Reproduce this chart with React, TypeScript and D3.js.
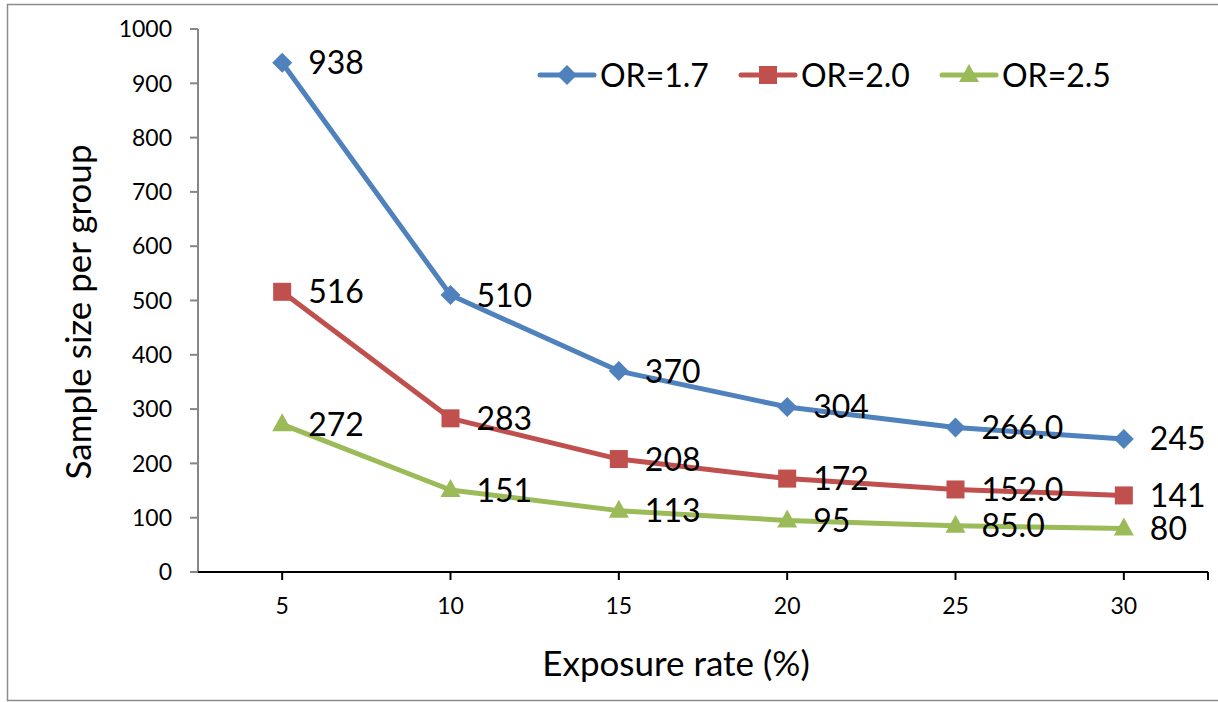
import { useEffect, useRef } from 'react';
import * as d3 from 'd3';

const exposureRates = ['5', '10', '15', '20', '25', '30'];
const seriesNames = ['OR=1.7', 'OR=2.0', 'OR=2.5'];
const or17 = [938, 510, 370, 304, 266, 245];
const or20 = [516, 283, 208, 172, 152, 141];
const or25 = [272, 151, 113, 95, 85, 80];
const or17Labels = ['938', '510', '370', '304', '266.0', '245'];
const or20Labels = ['516', '283', '208', '172', '152.0', '141'];
const or25Labels = ['272', '151', '113', '95', '85.0', '80'];
const yTicks = [0, 100, 200, 300, 400, 500, 600, 700, 800, 900, 1000];

const colors = ['#4F81BD', '#C0504D', '#9BBB59'];
const markers = ['diamond', 'square', 'triangle'];
const font = 'Lato, Carlito, Calibri, sans-serif';

const W = 1218;
const H = 702;

function drawMarker(g: d3.Selection<SVGGElement, unknown, null, undefined>, kind: string, x: number, y: number, color: string) {
  if (kind === 'diamond') {
    g.append('path')
      .attr('d', `M${x},${y - 10}L${x + 10},${y}L${x},${y + 10}L${x - 10},${y}Z`)
      .attr('fill', color);
  } else if (kind === 'square') {
    g.append('rect')
      .attr('x', x - 9)
      .attr('y', y - 9)
      .attr('width', 18)
      .attr('height', 18)
      .attr('fill', color);
  } else {
    g.append('path')
      .attr('d', `M${x},${y - 11}L${x + 10},${y + 7}L${x - 10},${y + 7}Z`)
      .attr('fill', color);
  }
}

export default function App() {
  const svgRef = useRef<SVGSVGElement>(null);

  useEffect(() => {
    if (!svgRef.current) return;
    const svg = d3.select(svgRef.current);
    svg.selectAll('*').remove();

    const plot = { left: 198, right: 1208, top: 29, bottom: 572 };

    const xScale = d3.scalePoint<string>()
      .domain(exposureRates)
      .range([plot.left, plot.right])
      .padding(0.5);

    const yScale = d3.scaleLinear()
      .domain([0, 1000])
      .range([plot.bottom, plot.top]);

    svg.append('rect')
      .attr('width', W)
      .attr('height', H)
      .attr('fill', '#fff');

    // chart frame
    svg.append('rect')
      .attr('x', 7.5)
      .attr('y', 4.5)
      .attr('width', 1220)
      .attr('height', 696)
      .attr('fill', 'none')
      .attr('stroke', '#8c8c8c')
      .attr('stroke-width', 1.5);

    // y axis
    const yAxis = svg.append('g');
    yAxis.append('line')
      .attr('x1', plot.left)
      .attr('x2', plot.left)
      .attr('y1', plot.top)
      .attr('y2', plot.bottom)
      .attr('stroke', '#868686')
      .attr('stroke-width', 2);
    yTicks.forEach(t => {
      yAxis.append('line')
        .attr('x1', plot.left - 8)
        .attr('x2', plot.left)
        .attr('y1', yScale(t))
        .attr('y2', yScale(t))
        .attr('stroke', '#868686')
        .attr('stroke-width', 2);
      yAxis.append('text')
        .attr('x', plot.left - 26)
        .attr('y', yScale(t))
        .attr('dy', '0.36em')
        .attr('text-anchor', 'end')
        .attr('font-family', font)
        .attr('font-size', '23px')
        .attr('fill', '#000')
        .text(t);
    });

    // x axis
    const xAxis = svg.append('g');
    xAxis.append('line')
      .attr('x1', plot.left)
      .attr('x2', plot.right)
      .attr('y1', plot.bottom)
      .attr('y2', plot.bottom)
      .attr('stroke', '#000')
      .attr('stroke-width', 2);
    [...exposureRates.map(c => xScale(c)!), plot.right].forEach(x => {
      xAxis.append('line')
        .attr('x1', x)
        .attr('x2', x)
        .attr('y1', plot.bottom)
        .attr('y2', plot.bottom + 8)
        .attr('stroke', '#000')
        .attr('stroke-width', 2);
    });
    exposureRates.forEach(c => {
      xAxis.append('text')
        .attr('x', xScale(c)!)
        .attr('y', 606)
        .attr('dy', '0.36em')
        .attr('text-anchor', 'middle')
        .attr('font-family', font)
        .attr('font-size', '23px')
        .attr('fill', '#000')
        .text(c);
    });

    // axis titles
    svg.append('text')
      .attr('x', 676)
      .attr('y', 676)
      .attr('text-anchor', 'middle')
      .attr('font-family', font)
      .attr('font-size', '35px')
      .attr('fill', '#000')
      .text('Exposure rate (%)');

    svg.append('text')
      .attr('transform', `translate(91,${(146 + 478) / 2}) rotate(-90)`)
      .attr('text-anchor', 'middle')
      .attr('font-family', font)
      .attr('font-size', '35px')
      .attr('fill', '#000')
      .text('Sample size per group');

    const allValues = [or17, or20, or25];
    const allLabels = [or17Labels, or20Labels, or25Labels];

    const line = d3.line<number>()
      .x((_d, i) => xScale(exposureRates[i])!)
      .y(d => yScale(d));

    allValues.forEach((vals, s) => {
      const g = svg.append('g');
      g.append('path')
        .datum(vals)
        .attr('d', line)
        .attr('fill', 'none')
        .attr('stroke', colors[s])
        .attr('stroke-width', 5)
        .attr('stroke-linejoin', 'round');
      vals.forEach((v, i) => {
        drawMarker(g, markers[s], xScale(exposureRates[i])!, yScale(v), colors[s]);
      });
      vals.forEach((v, i) => {
        g.append('text')
          .attr('x', xScale(exposureRates[i])! + 26)
          .attr('y', yScale(v))
          .attr('dy', '0.36em')
          .attr('font-family', font)
          .attr('font-size', '32px')
          .attr('fill', '#000')
          .text(allLabels[s][i]);
      });
    });

    // legend
    const legendX = [540, 741, 942];
    seriesNames.forEach((name, s) => {
      const lg = svg.append('g');
      const x0 = legendX[s];
      const y0 = 75;
      lg.append('line')
        .attr('x1', x0)
        .attr('x2', x0 + 54)
        .attr('y1', y0)
        .attr('y2', y0)
        .attr('stroke', colors[s])
        .attr('stroke-width', 5)
        .attr('stroke-linecap', 'round');
      drawMarker(lg, markers[s], x0 + 27, y0, colors[s]);
      lg.append('text')
        .attr('x', x0 + 60)
        .attr('y', y0)
        .attr('dy', '0.36em')
        .attr('font-family', font)
        .attr('font-size', '32px')
        .attr('fill', '#000')
        .text(name);
    });
  }, []);

  return (
    <svg
      ref={svgRef}
      width={W}
      height={H}
      style={{ position: 'absolute', left: 0, top: 0 }}
    />
  );
}
